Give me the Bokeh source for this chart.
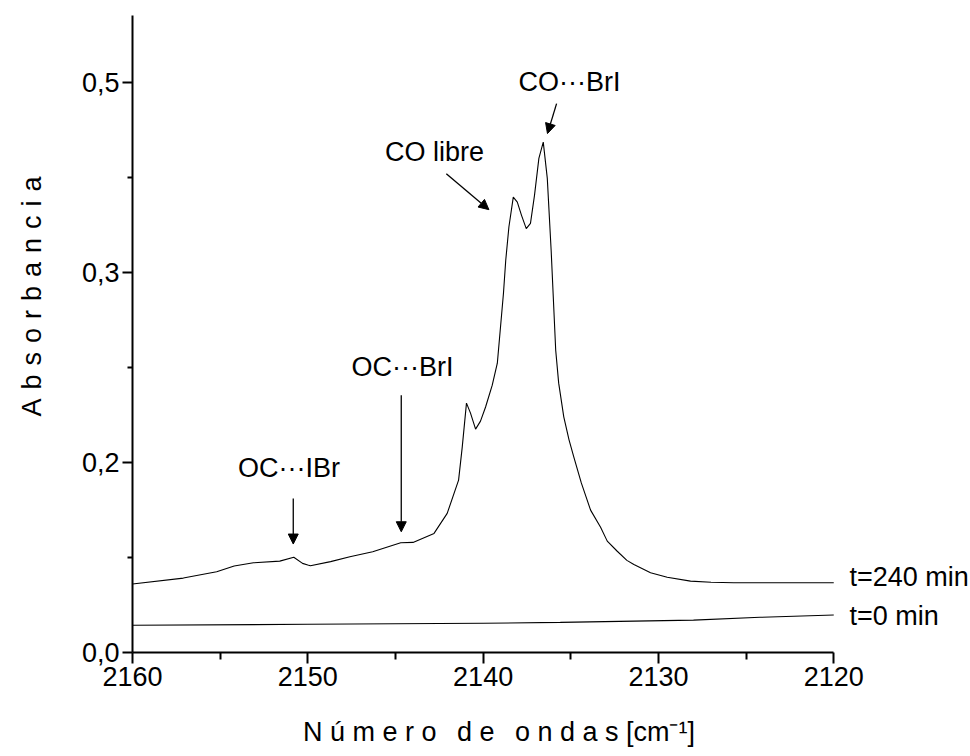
from bokeh.plotting import figure
from bokeh.models import Range1d, Label, Arrow, NormalHead, FixedTicker
from bokeh.embed import file_html
from bokeh.resources import INLINE

# IR spectrum of CO / IBr mixture, t = 240 min
wn_240 = [2160.0, 2157.1, 2155.2, 2154.2, 2153.1, 2151.6, 2150.8, 2150.3, 2150.0,
          2149.85, 2148.7, 2147.6, 2146.3, 2144.7, 2144.0, 2142.8, 2142.05, 2141.4,
          2141.19, 2140.95, 2140.72, 2140.43, 2140.15, 2139.86, 2139.48, 2139.19,
          2138.84, 2138.71, 2138.53, 2138.28, 2138.05, 2137.81, 2137.54, 2137.30,
          2137.07, 2136.82, 2136.57, 2136.34, 2136.12, 2135.86, 2135.69, 2135.40,
          2135.10, 2134.83, 2134.40, 2133.87, 2133.30, 2132.92, 2132.35, 2131.80,
          2131.40, 2130.45, 2129.50, 2128.17, 2127.00, 2125.70, 2120.0]
abs_240 = [0.0541, 0.0588, 0.0638, 0.0683, 0.0709, 0.0722, 0.0752, 0.0704, 0.0691,
           0.0685, 0.0718, 0.0756, 0.0796, 0.0867, 0.0870, 0.0941, 0.1099, 0.1362,
           0.1625, 0.1970, 0.1891, 0.1765, 0.1828, 0.1940, 0.2112, 0.2286,
           0.2838, 0.3099, 0.3362, 0.3598, 0.3559, 0.3454, 0.3349, 0.3391,
           0.3612, 0.3904, 0.4033, 0.3746, 0.3178, 0.2388, 0.2128, 0.1862,
           0.1680, 0.1546, 0.1340, 0.1125, 0.0990, 0.0880, 0.0800, 0.0728,
           0.0695, 0.0630, 0.0594, 0.0564, 0.0555, 0.0551, 0.0551]

# t = 0 min baseline
wn_0 = [2160.0, 2150.0, 2140.0, 2135.6, 2128.0, 2124.2, 2120.0]
abs_0 = [0.0215, 0.0223, 0.0231, 0.0238, 0.0256, 0.0278, 0.0296]

# y ticks and their printed labels
y_ticks = [0.0, 0.15, 0.30, 0.45]
y_tick_labels = ["0,0", "0,2", "0,3", "0,5"]
x_ticks = [2160, 2150, 2140, 2130, 2120]
x_minor = [2155, 2145, 2135, 2125]
y_minor = [0.075, 0.225, 0.375]

FONT = "Liberation Sans"
NB = "\u00a0"
THIN = "\u2009"
TS = "\u2004"  # three-per-em space between spaced-out letters

word_gap = NB * 2 + THIN
# trailing no-break spaces pull the centred title back over the bounded axis
x_title = (NB.join("Número") + word_gap + NB.join("de") + word_gap + NB.join("ondas")
           + NB + "[cm\u207b\u00b9]" + NB * 14)
y_title = NB * 10 + TS.join("Absorbancia")

# frame runs to the right page edge so the series labels fit inside it;
# the x axis itself is bounded to 2160..2120
p = figure(width=970, height=756, output_backend="svg", toolbar_location=None,
           x_range=Range1d(2160, 2112.2), y_range=Range1d(0, 0.5033),
           min_border_left=132, min_border_right=0, min_border_top=15,
           min_border_bottom=104)
p.outline_line_color = None
p.grid.grid_line_color = None
p.background_fill_color = "white"
p.border_fill_color = "white"

p.line(wn_240, abs_240, line_color="black", line_width=1.1)
p.line(wn_0, abs_0, line_color="black", line_width=1.1)

# axes
xa = p.xaxis[0]
xa.ticker = FixedTicker(ticks=x_ticks, minor_ticks=x_minor)
xa.bounds = (2120, 2160)
xa.axis_label = x_title
ya = p.yaxis[0]
ya.ticker = FixedTicker(ticks=y_ticks, minor_ticks=y_minor)
ya.major_label_overrides = {t: s for t, s in zip(y_ticks, y_tick_labels)}
ya.axis_label = y_title

for ax in (xa, ya):
    ax.axis_line_width = 2
    ax.major_tick_line_width = 2
    ax.minor_tick_line_width = 2
    ax.major_tick_in = 0
    ax.minor_tick_in = 0
    ax.major_label_text_font = FONT
    ax.major_label_text_font_size = "27px"
    ax.major_label_text_color = "black"
    ax.axis_label_text_font = FONT
    ax.axis_label_text_font_size = "27px"
    ax.axis_label_text_font_style = "normal"
    ax.axis_label_text_color = "black"
    ax.axis_line_color = "black"
    ax.major_tick_line_color = "black"
    ax.minor_tick_line_color = "black"

xa.major_tick_out = 11
xa.minor_tick_out = 7
xa.major_label_standoff = 3
xa.axis_label_standoff = 28
ya.major_tick_out = 10
ya.minor_tick_out = 5
ya.major_label_standoff = 3
ya.axis_label_standoff = 32

# curve annotations
notes = [
    ("CO\u00b7\u00b7\u00b7BrI", 2135.07, 0.4504),
    ("CO libre", 2142.77, 0.3951),
    ("OC\u00b7\u00b7\u00b7BrI", 2144.6, 0.2254),
    ("OC\u00b7\u00b7\u00b7IBr", 2151.07, 0.1460),
]
for txt, x, y in notes:
    p.add_layout(Label(x=x, y=y, text=txt, text_align="center", text_baseline="middle",
                       text_font=FONT, text_font_size="27px", text_color="black"))

arrows = [
    (2135.81, 0.4337, 2136.33, 0.4100),
    (2142.10, 0.3783, 2139.67, 0.3499),
    (2144.67, 0.2033, 2144.67, 0.0954),
    (2150.83, 0.1217, 2150.83, 0.0857),
]
for x0, y0, x1, y1 in arrows:
    p.add_layout(Arrow(x_start=x0, y_start=y0, x_end=x1, y_end=y1, line_width=1.3,
                       line_color="black",
                       end=NormalHead(size=10, fill_color="black", line_color="black")))

# series labels
series_labels = [("t=240 min", 0.0596), ("t=0 min", 0.0288)]
for txt, y in series_labels:
    p.add_layout(Label(x=2119.1, y=y, text=txt, text_baseline="middle",
                       text_font=FONT, text_font_size="27px", text_color="black"))

open("out.html", "w").write(file_html(p, INLINE))
